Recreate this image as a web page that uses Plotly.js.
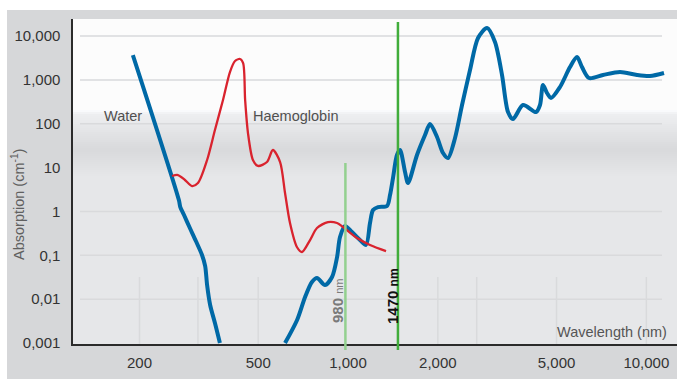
<!DOCTYPE html>
<html><head><meta charset="utf-8">
<script src="https://cdn.plot.ly/plotly-3.0.1.min.js"></script>
<style>html,body{margin:0;padding:0;background:#fff;overflow:hidden}#chart{width:677px;height:379px;}</style>
</head><body><div id="chart"></div>
<script>
// ---- data ----
const waterWavelength = [190, 271, 274, 282, 295, 309, 324, 332, 337, 345, 358, 372, 450,
  615, 675, 718, 757, 787, 837, 884, 919, 940, 977, 1031, 1097, 1149, 1185, 1213, 1261, 1351,
  1383, 1415, 1459, 1494, 1553, 1589, 1703, 1812, 1883, 1988, 2082, 2163, 2284, 2411, 2564,
  2728, 2924, 3109, 3283, 3438, 3573, 3861, 4267, 4401, 4504, 4645, 4791, 5135, 5548, 5855,
  6085, 6424, 7158, 8159, 9305, 10286, 11460];
const waterAbsorption = [3690, 1.82, 1.26, 0.83, 0.419, 0.212, 0.1016, 0.057, 0.021, 0.00736, 0.00286, 0.001, null,
  0.001, 0.00335, 0.0112, 0.0246, 0.0304, 0.021, 0.032, 0.0914, 0.261, 0.466, 0.34, 0.223, 0.172, 0.545, 1.08, 1.26, 1.33,
  2.37, 5.78, 19.4, 25.2, 7.93, 4.45, 19.4, 55.3, 98.6, 49.8, 21.5, 16.5, 47.2, 267, 1678,
  9000, 15210, 7300, 1291, 185, 128, 267, 185, 267, 764, 501, 386, 687, 1965, 3320,
  1965, 1103, 1291, 1511, 1291, 1225, 1432];
const hbWavelength = [257, 269, 284, 300, 314, 337, 358, 381, 402, 418, 434.5, 445, 452, 462, 480,
  499, 535, 560, 592, 615, 639, 674, 701, 746, 787, 857, 919, 962, 1072, 1185, 1341];
const hbAbsorption = [6.43, 6.77, 5.21, 3.80, 4.45, 14.9, 71.9, 347, 1511, 2692, 2993, 2420, 347, 61.4, 14.9,
  10.9, 13.4, 25.2, 13.4, 2.63, 0.545, 0.155, 0.119, 0.223, 0.419, 0.574, 0.545, 0.442, 0.248, 0.172, 0.125];
const xTickVals = [200, 500, 1000, 2000, 5000, 10000];
const xTickText = ['200', '500', '1,000', '2,000', '5,000', '10,000'];
const yTickVals = [10000, 1000, 100, 10, 1, 0.1, 0.01, 0.001];
const yTickText = ['10,000', '1,000', '100', '10', '1', '0,1', '0,01', '0,001'];
const laserWavelengths = [980, 1470];
const laserLabels = ['980', '1470'];
const hGridVals = [10000, 1000, 100, 1, 0.1, 0.01];
const vGridVals = [200, 314, 500, 2000, 2700, 5000, 10000];

// ---- geometry helpers (pixel -> paper) ----
const L = 73, R = 677, T = 19, B = 344;
const px = p => (p - L) / (R - L);
const py = p => (B - p) / (B - T);
const FONT = 'Liberation Sans, Arial, Helvetica, sans-serif';

const shapes = [];
// outer white margins (top band, left strip)
shapes.push({type:'rect', xref:'paper', yref:'paper', x0:px(-5), x1:px(690), y0:py(10), y1:py(-5), fillcolor:'#ffffff', line:{width:0}, layer:'below'});
shapes.push({type:'rect', xref:'paper', yref:'paper', x0:px(-5), x1:px(7), y0:py(390), y1:py(-5), fillcolor:'#ffffff', line:{width:0}, layer:'below'});
// background: white top, grey band gradient
shapes.push({type:'rect', xref:'paper', yref:'paper', x0:0, x1:1, y0:py(111), y1:1, fillcolor:'#fcfcfc', line:{width:0}, layer:'below'});
function shade(y){
  if (y < 114) return 252 - (y - 110) * 3.5;
  if (y < 150) return 238 - (y - 114) * (22 / 36);
  if (y < 176) return 216 + (y - 150) * (14 / 26);
  return 230;
}
for (let y = 110; y < 178; y += 2) {
  const g = Math.round(shade(y + 1));
  shapes.push({type:'rect', xref:'paper', yref:'paper', x0:0, x1:1, y0:py(y + 2.3), y1:py(y),
    fillcolor:`rgb(${g},${g + 1},${g + 3})`, line:{width:0}, layer:'below'});
}
// gridlines
hGridVals.forEach(v => shapes.push({type:'line', xref:'paper', yref:'y', x0:px(80), x1:px(662), y0:v, y1:v,
  line:{color:'#d9dadc', width:1.5}, layer:'below'}));
vGridVals.forEach(v => shapes.push({type:'line', xref:'x', yref:'paper', x0:v, x1:v, y0:0, y1:py(277),
  line:{color:'#d9dadc', width:1.5}, layer:'below'}));
// laser lines
shapes.push({type:'line', xref:'x', yref:'paper', x0:laserWavelengths[0], x1:laserWavelengths[0], y0:py(350), y1:py(163),
  line:{color:'#93d08f', width:2.5}, layer:'above'});
shapes.push({type:'line', xref:'x', yref:'paper', x0:laserWavelengths[1], x1:laserWavelengths[1], y0:py(350), y1:py(22),
  line:{color:'#41ad3b', width:2.5}, layer:'above'});

const annotations = [
  {xref:'paper', yref:'paper', x:px(102), y:py(116), xanchor:'left', yanchor:'middle', text:'Water', showarrow:false,
    font:{family:FONT, size:14.5, color:'#505050'}},
  {xref:'paper', yref:'paper', x:px(251), y:py(116), xanchor:'left', yanchor:'middle', text:'Haemoglobin', showarrow:false,
    font:{family:FONT, size:14.5, color:'#505050'}},
  {xref:'paper', yref:'paper', x:px(669), y:py(332), xanchor:'right', yanchor:'middle', text:'Wavelength (nm)', showarrow:false,
    font:{family:FONT, size:14.5, color:'#555555'}},
  {xref:'paper', yref:'paper', x:px(18), y:py(205), xanchor:'center', yanchor:'middle', textangle:-90,
    text:'Absorption (cm<sup>-1</sup>)', showarrow:false, font:{family:FONT, size:14.5, color:'#606060'}},
  {xref:'paper', yref:'paper', x:px(337), y:py(301), xanchor:'center', yanchor:'middle', textangle:-90,
    text:'<b>' + laserLabels[0] + '</b> <span style="font-size:11px">nm</span>', showarrow:false,
    font:{family:FONT, size:15, color:'#7a7a7a'}},
  {xref:'paper', yref:'paper', x:px(392), y:py(296), xanchor:'center', yanchor:'middle', textangle:-90,
    text:'<b>' + laserLabels[1] + ' <span style="font-size:12px">nm</span></b>', showarrow:false,
    font:{family:FONT, size:15, color:'#111111'}}
];

const traces = [
  {x: waterWavelength, y: waterAbsorption, type:'scatter', mode:'lines', connectgaps:false,
    line:{color:'#0069a6', width:4, shape:'spline', smoothing:0.8}, hoverinfo:'skip'},
  {x: hbWavelength, y: hbAbsorption, type:'scatter', mode:'lines',
    line:{color:'#d9232e', width:2.3, shape:'spline', smoothing:0.8}, hoverinfo:'skip'}
];

const layout = {
  width:677, height:379,
  margin:{l:L, r:677 - R, t:T, b:379 - B, pad:0},
  paper_bgcolor:'#d6d7d9', plot_bgcolor:'#e6e7e9',
  showlegend:false,
  font:{family:FONT, size:15, color:'#333333'},
  xaxis:{type:'log', range:[Math.log10(119.7), Math.log10(12670)], showgrid:false, zeroline:false,
    showline:true, linecolor:'#2b2b2b', linewidth:1.6, ticks:'', tickvals:xTickVals, ticktext:xTickText,
    tickfont:{family:FONT, size:15, color:'#333333'}, ticklabelstandoff:4, fixedrange:true},
  yaxis:{type:'log', range:[-3.022, 4.388], showgrid:false, zeroline:false,
    showline:true, linecolor:'#2b2b2b', linewidth:1.6, ticks:'', tickvals:yTickVals, ticktext:yTickText,
    tickfont:{family:FONT, size:15, color:'#333333'}, ticklabelstandoff:8, fixedrange:true},
  shapes: shapes,
  annotations: annotations
};

Plotly.newPlot('chart', traces, layout, {staticPlot:true, displayModeBar:false});
</script>
</body></html>
